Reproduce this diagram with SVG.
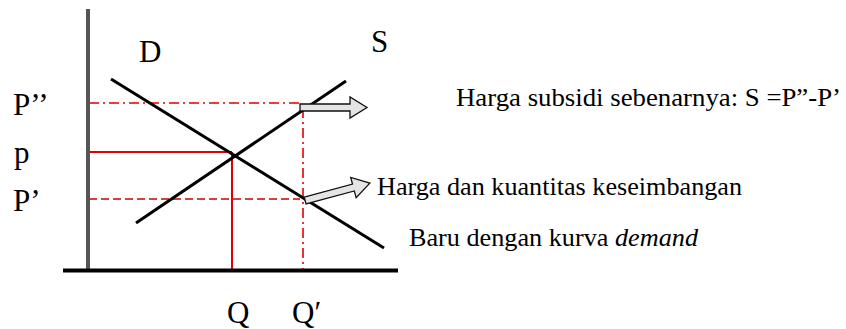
<svg xmlns="http://www.w3.org/2000/svg" width="846" height="329" viewBox="0 0 846 329" font-family="Liberation Serif, Times New Roman, serif">
<style>
text{font-family:'Liberation Serif','Times New Roman',serif;fill:#000}
.big{font-size:31px}
.txt{font-size:25px}
.curve{stroke:#000;stroke-width:3;fill:none}
.red{stroke:#e00000;stroke-width:2;fill:none}
.dashdot{stroke:#e00000;stroke-width:1.6;stroke-dasharray:10 4 2 4;fill:none}
.dash{stroke:#cc0000;stroke-width:1.6;stroke-dasharray:8 4;fill:none}
.barrow{fill:#e4e4e4;stroke:#111;stroke-width:1.3}
</style>
<rect width="846" height="329" fill="#fff"/>
<g id="guides">
  <line class="dashdot" x1="89" y1="103" x2="300" y2="103"/>
  <line class="red" x1="89" y1="152" x2="232" y2="152"/>
  <line class="red" x1="232" y1="152" x2="232" y2="270"/>
  <line class="dash" x1="89" y1="199" x2="300" y2="199"/>
  <line class="dashdot" x1="303" y1="108" x2="303" y2="270"/>
</g>
<g id="axes">
  <line x1="88" y1="9" x2="88" y2="270" stroke="#555" stroke-width="4"/>
  <line x1="63" y1="270.5" x2="398" y2="270.5" stroke="#000" stroke-width="4"/>
</g>
<g id="curves">
  <line id="demand" class="curve" x1="111" y1="79" x2="384" y2="248"/>
  <line id="supply" class="curve" x1="136" y1="223" x2="346" y2="81"/>
</g>
<g id="connectors">
  <polygon id="arrow-subsidy" class="barrow" points="300,104 350,104 350,97 367,107.5 350,118 350,111 300,111"/>
  <polygon id="arrow-equilibrium" class="barrow" transform="rotate(-15 305 200)" points="305,197 355,197 355,190 372,200.5 355,211 355,204 305,204"/>
</g>
<g id="axis-labels">
  <text class="big" x="139" y="62">D</text>
  <text class="big" x="371" y="52">S</text>
  <text class="big" x="13" y="115">P’’</text>
  <text class="big" x="14" y="163">p</text>
  <text class="big" x="13" y="211">P’</text>
  <text class="big" x="227" y="323">Q</text>
  <text class="big" x="292" y="323">Q′</text>
</g>
<g id="annotations">
  <text id="t-subsidy" class="txt" x="456" y="106" textLength="385" lengthAdjust="spacingAndGlyphs">Harga subsidi sebenarnya: S =P”-P’</text>
  <text id="t-equilibrium" class="txt" x="377" y="195" textLength="365" lengthAdjust="spacingAndGlyphs">Harga dan kuantitas keseimbangan</text>
  <text id="t-demand" class="txt" x="409" y="246" textLength="289" lengthAdjust="spacingAndGlyphs">Baru dengan kurva <tspan font-style="italic">demand</tspan></text>
</g>
</svg>
